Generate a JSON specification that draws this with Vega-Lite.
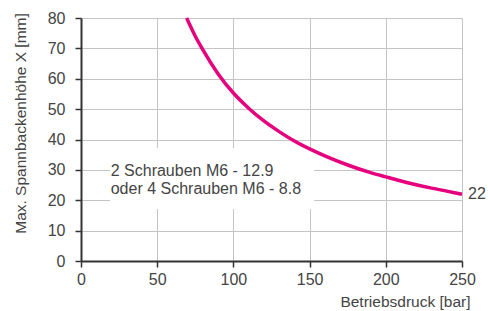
{
  "$schema": "https://vega.github.io/schema/vega-lite/v6.json",
  "width": 381,
  "height": 243,
  "autosize": {"type": "none"},
  "padding": {"left": 81, "top": 18, "right": 26, "bottom": 50},
  "background": "white",
  "config": {
    "view": {"stroke": null},
    "font": "Liberation Sans",
    "axis": {
      "domainColor": "#333333",
      "domainWidth": 2,
      "tickColor": "#333333",
      "tickWidth": 1.5,
      "tickSize": 6,
      "gridColor": "#c4c4c4",
      "gridWidth": 1,
      "labelFont": "Liberation Sans",
      "labelFontSize": 16,
      "labelColor": "#444444",
      "labelOverlap": false,
      "labelFlush": false,
      "titleFont": "Liberation Sans",
      "titleFontSize": 15.5,
      "titleFontWeight": "normal",
      "titleColor": "#444444"
    }
  },
  "datasets": {
    "curve": [
      {"p": 69.3, "h": 80},
      {"p": 75, "h": 74},
      {"p": 80, "h": 69.5},
      {"p": 90, "h": 61.6},
      {"p": 100, "h": 55.3},
      {"p": 110, "h": 50.3},
      {"p": 120, "h": 46.1},
      {"p": 130, "h": 42.6},
      {"p": 140, "h": 39.5},
      {"p": 150, "h": 36.9},
      {"p": 160, "h": 34.6},
      {"p": 175, "h": 31.6},
      {"p": 190, "h": 29.1},
      {"p": 200, "h": 27.7},
      {"p": 215, "h": 25.7},
      {"p": 230, "h": 24.0},
      {"p": 240, "h": 23.0},
      {"p": 250, "h": 22}
    ],
    "box": [{"p": 19, "p2": 153, "h": 17.1, "h2": 37.2}],
    "notes": [
      {"p": 19.5, "h": 29.7, "label": "2 Schrauben M6 - 12.9"},
      {"p": 19.5, "h": 23.8, "label": "oder 4 Schrauben M6 - 8.8"}
    ],
    "endlabel": [{"p": 250, "h": 22, "label": "22"}]
  },
  "encoding": {
    "x": {
      "field": "p", "type": "quantitative",
      "scale": {"domain": [0, 250], "nice": false},
      "axis": {
        "values": [0, 50, 100, 150, 200, 250],
        "tickCount": 20,
        "title": "Betriebsdruck [bar]",
        "titleAnchor": "end",
        "titleAlign": "right",
        "titleX": 389,
        "titleY": 45,
        "titleBaseline": "alphabetic",
        "labelPadding": 4
      }
    },
    "y": {
      "field": "h", "type": "quantitative",
      "scale": {"domain": [0, 80], "nice": false},
      "axis": {
        "values": [0, 10, 20, 30, 40, 50, 60, 70, 80],
        "tickCount": 20,
        "title": "Max. Spannbackenhöhe X [mm]",
        "titleX": -61,
        "titleY": 105,
        "titleBaseline": "middle",
        "titleAlign": "center",
        "labelPadding": 10
      }
    }
  },
  "layer": [
    {
      "data": {"name": "box"},
      "mark": {"type": "rect", "fill": "white", "stroke": null},
      "encoding": {
        "x2": {"field": "p2"},
        "y2": {"field": "h2"}
      }
    },
    {
      "data": {"name": "curve"},
      "mark": {"type": "line", "color": "#E5007D", "strokeWidth": 3.5, "interpolate": "monotone"}
    },
    {
      "data": {"name": "notes"},
      "mark": {"type": "text", "align": "left", "baseline": "middle", "fontSize": 16, "color": "#444444", "font": "Liberation Sans"},
      "encoding": {
        "text": {"field": "label"}
      }
    },
    {
      "data": {"name": "endlabel"},
      "mark": {"type": "text", "align": "left", "baseline": "middle", "dx": 6, "fontSize": 16, "color": "#444444", "font": "Liberation Sans"},
      "encoding": {
        "text": {"field": "label"}
      }
    }
  ]
}
